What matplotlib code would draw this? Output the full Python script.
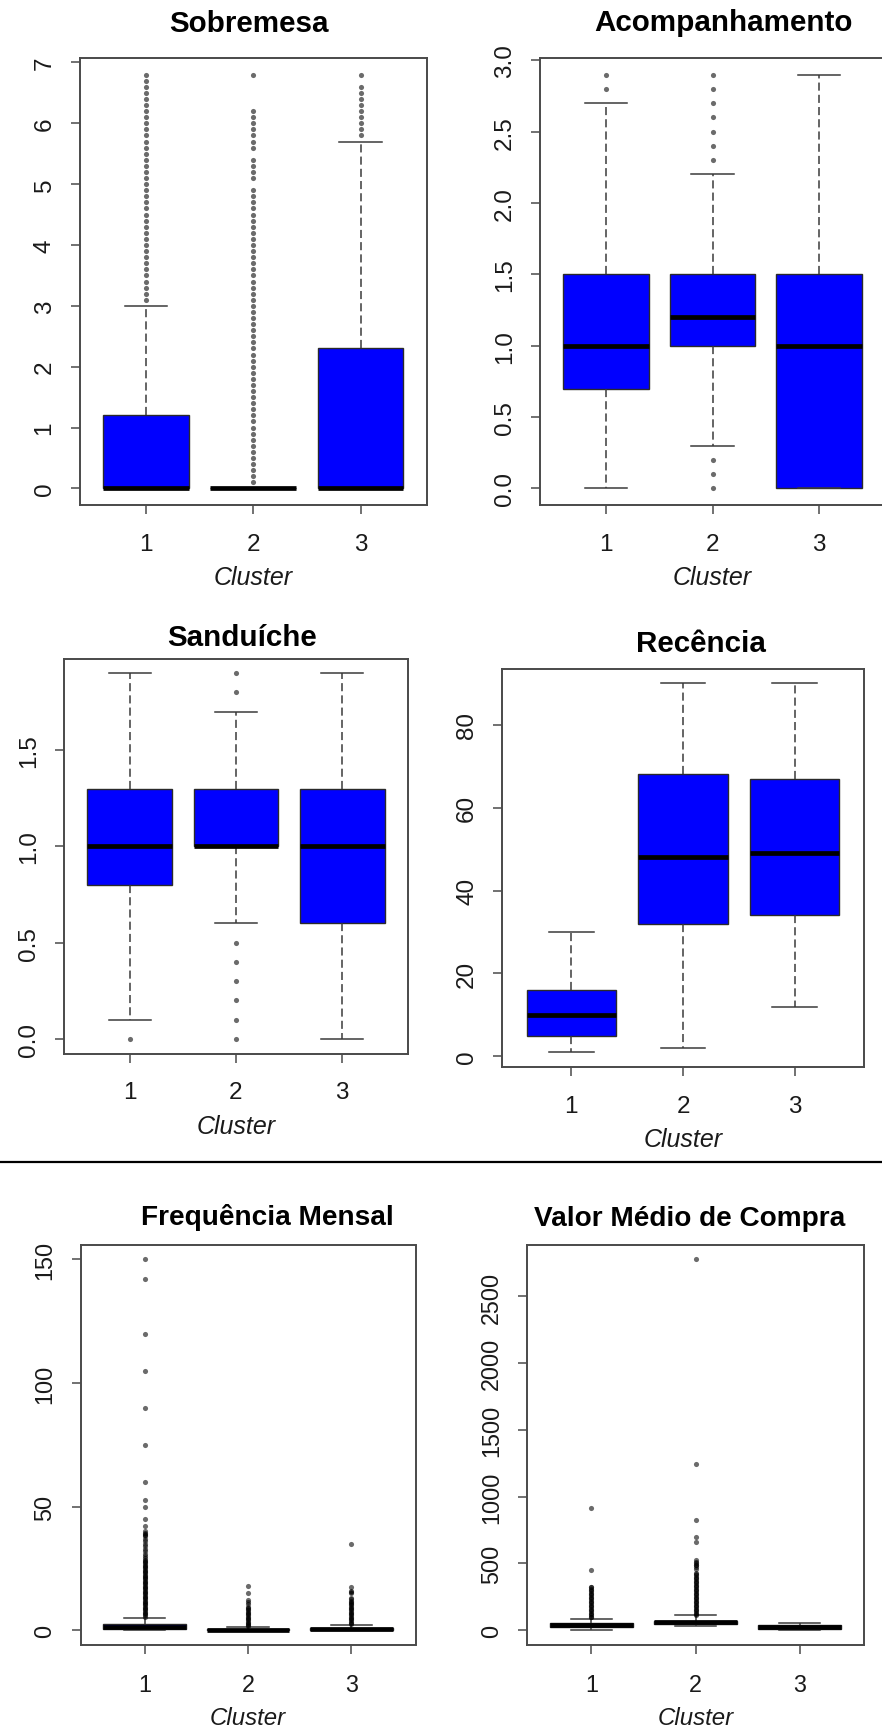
import matplotlib
matplotlib.use("Agg")
import matplotlib.pyplot as plt
from matplotlib.lines import Line2D

plt.rcParams['font.family'] = ['Liberation Sans', 'DejaVu Sans']

W, H, DPI = 882, 1731, 100
PT = 72.0 / DPI  # points per pixel

clusters = [1, 2, 3]
x_label = "Cluster"

# ---------------- Sobremesa ----------------
sob_title = "Sobremesa"
sob_q1 = [0.0, 0.0, 0.0]
sob_med = [0.0, 0.0, 0.0]
sob_q3 = [1.2, 0.0, 2.3]
sob_lo = [0.0, 0.0, 0.0]
sob_hi = [3.0, 0.0, 5.7]
sob_out_1 = [3.1, 3.2, 3.3, 3.4, 3.5, 3.6, 3.7, 3.8, 3.9, 4.0, 4.1, 4.2, 4.3,
             4.4, 4.5, 4.6, 4.7, 4.8, 4.9, 5.0, 5.1, 5.2, 5.3, 5.4, 5.5, 5.6,
             5.7, 5.8, 5.9, 6.0, 6.1, 6.2, 6.3, 6.4, 6.5, 6.6, 6.7, 6.8]
sob_out_2 = [0.1, 0.2, 0.3, 0.4, 0.5, 0.6, 0.7, 0.8, 0.9, 1.0, 1.1, 1.2, 1.3,
             1.4, 1.5, 1.6, 1.7, 1.8, 1.9, 2.0, 2.1, 2.2, 2.3, 2.4, 2.5, 2.6,
             2.7, 2.8, 2.9, 3.0, 3.1, 3.2, 3.3, 3.4, 3.5, 3.6, 3.7, 3.8, 3.9,
             4.0, 4.1, 4.2, 4.3, 4.4, 4.5, 4.6, 4.7, 4.8, 4.9, 5.1, 5.2, 5.3,
             5.4, 5.6, 5.7, 5.8, 5.9, 6.0, 6.1, 6.2, 6.8]
sob_out_3 = [5.8, 5.9, 6.0, 6.1, 6.2, 6.3, 6.4, 6.5, 6.6, 6.8]
sob_yticks = [0, 1, 2, 3, 4, 5, 6, 7]
sob_ylabels = ["0", "1", "2", "3", "4", "5", "6", "7"]

# ---------------- Acompanhamento ----------------
aco_title = "Acompanhamento"
aco_q1 = [0.7, 1.0, 0.0]
aco_med = [1.0, 1.2, 1.0]
aco_q3 = [1.5, 1.5, 1.5]
aco_lo = [0.0, 0.3, 0.0]
aco_hi = [2.7, 2.2, 2.9]
aco_out_1 = [2.8, 2.9]
aco_out_2 = [0.0, 0.1, 0.2, 2.3, 2.4, 2.5, 2.6, 2.7, 2.8, 2.9]
aco_out_3 = []
aco_yticks = [0.0, 0.5, 1.0, 1.5, 2.0, 2.5, 3.0]
aco_ylabels = ["0.0", "0.5", "1.0", "1.5", "2.0", "2.5", "3.0"]

# ---------------- Sanduíche ----------------
san_title = "Sanduíche"
san_q1 = [0.8, 1.0, 0.6]
san_med = [1.0, 1.0, 1.0]
san_q3 = [1.3, 1.3, 1.3]
san_lo = [0.1, 0.6, 0.0]
san_hi = [1.9, 1.7, 1.9]
san_out_1 = [0.0]
san_out_2 = [0.0, 0.1, 0.2, 0.3, 0.4, 0.5, 1.8, 1.9]
san_out_3 = []
san_yticks = [0.0, 0.5, 1.0, 1.5]
san_ylabels = ["0.0", "0.5", "1.0", "1.5"]

# ---------------- Recência ----------------
rec_title = "Recência"
rec_q1 = [5, 32, 34]
rec_med = [10, 48, 49]
rec_q3 = [16, 68, 67]
rec_lo = [1, 2, 12]
rec_hi = [30, 90, 90]
rec_out_1 = []
rec_out_2 = []
rec_out_3 = []
rec_yticks = [0, 20, 40, 60, 80]
rec_ylabels = ["0", "20", "40", "60", "80"]

# ---------------- Frequência Mensal ----------------
fre_title = "Frequência Mensal"
fre_q1 = [0.4, 0.0, 0.0]
fre_med = [1.3, 0.2, 0.4]
fre_q3 = [2.5, 0.5, 0.8]
fre_lo = [0.0, 0.0, 0.0]
fre_hi = [5.0, 1.2, 2.0]
fre_out_1 = [5.5, 6, 6.5, 7, 7.5, 8, 8.5, 9, 9.5, 10, 10.5, 11, 11.5, 12,
             12.5, 13, 13.5, 14, 14.5, 15, 15.5, 16, 16.5, 17, 17.5, 18, 18.5,
             19, 19.5, 20, 20.5, 21, 21.5, 22, 22.5, 23, 23.5, 24, 24.5, 25,
             25.5, 26, 26.5, 27, 27.5, 28, 28.5, 29, 30, 31, 32, 33, 34, 35,
             36, 37, 38, 38.5, 39, 39.5, 40, 42, 45, 50, 52.5, 60, 75, 90,
             105, 120, 142, 150]
fre_out_2 = [1.5, 2, 2.5, 3, 3.5, 4, 4.5, 5, 5.5, 6, 6.5, 7, 7.5, 8, 8.5, 9,
             9.5, 10.5, 11.5, 12.3, 15, 18]
fre_out_3 = [2.5, 3, 3.5, 4, 4.5, 5, 5.5, 6, 6.5, 7, 7.5, 8, 8.5, 9, 9.5, 10,
             10.5, 11, 11.5, 12, 12.5, 13, 15, 15.5, 16, 17.5, 35]
fre_yticks = [0, 50, 100, 150]
fre_ylabels = ["0", "50", "100", "150"]

# ---------------- Valor Médio de Compra ----------------
val_title = "Valor Médio de Compra"
val_q1 = [20, 45, 10]
val_med = [35, 60, 25]
val_q3 = [50, 72, 40]
val_lo = [0, 30, 0]
val_hi = [87, 110, 50]
val_out_1 = [95, 100, 110, 120, 130, 140, 150, 160, 170, 180, 190, 200, 210,
             220, 230, 240, 250, 260, 270, 280, 290, 300, 310, 320, 325, 448,
             913]
val_out_2 = [115, 120, 130, 140, 150, 160, 170, 180, 190, 200, 210, 220, 230,
             240, 250, 260, 270, 280, 290, 300, 310, 320, 330, 340, 350, 360,
             370, 380, 390, 400, 410, 420, 430, 460, 475, 485, 490, 500, 510,
             527, 659, 701, 823, 1248, 2778]
val_out_3 = []
val_yticks = [0, 500, 1000, 1500, 2000, 2500]
val_ylabels = ["0", "500", "1000", "1500", "2000", "2500"]

# ---------------- layout (pixels) ----------------
panels = [
    dict(title=sob_title, q1=sob_q1, med=sob_med, q3=sob_q3, lo=sob_lo, hi=sob_hi,
         out=[sob_out_1, sob_out_2, sob_out_3], yt=sob_yticks, yl=sob_ylabels,
         box=(79.5, 427, 59, 506), tpos=(249, 31.5), fs=17.5, tfs=21.3),
    dict(title=aco_title, q1=aco_q1, med=aco_med, q3=aco_q3, lo=aco_lo, hi=aco_hi,
         out=[aco_out_1, aco_out_2, aco_out_3], yt=aco_yticks, yl=aco_ylabels,
         box=(540, 885, 59, 506), tpos=(723, 31), fs=17.5, tfs=21.3),
    dict(title=san_title, q1=san_q1, med=san_med, q3=san_q3, lo=san_lo, hi=san_hi,
         out=[san_out_1, san_out_2, san_out_3], yt=san_yticks, yl=san_ylabels,
         box=(64, 408, 659.5, 1054.5), tpos=(242, 646), fs=17.5, tfs=21.3),
    dict(title=rec_title, q1=rec_q1, med=rec_med, q3=rec_q3, lo=rec_lo, hi=rec_hi,
         out=[rec_out_1, rec_out_2, rec_out_3], yt=rec_yticks, yl=rec_ylabels,
         box=(502, 864, 669.5, 1068), tpos=(701, 652), fs=17.5, tfs=21.3),
    dict(title=fre_title, q1=fre_q1, med=fre_med, q3=fre_q3, lo=fre_lo, hi=fre_hi,
         out=[fre_out_1, fre_out_2, fre_out_3], yt=fre_yticks, yl=fre_ylabels,
         box=(80.5, 415.5, 1245.5, 1646), tpos=(267.5, 1225), fs=16.8, tfs=20.2),
    dict(title=val_title, q1=val_q1, med=val_med, q3=val_q3, lo=val_lo, hi=val_hi,
         out=[val_out_1, val_out_2, val_out_3], yt=val_yticks, yl=val_ylabels,
         box=(527, 864, 1245.5, 1646), tpos=(690, 1225.5), fs=16.8, tfs=20.2),
]

FRAME = '#4a4a4a'
TEXT = '#1a1a1a'

fig = plt.figure(figsize=(W / DPI, H / DPI), dpi=DPI)
fig.patch.set_facecolor('white')

for p in panels:
    l, r, t, b = p['box']
    ax = fig.add_axes([l / W, 1 - b / H, (r - l) / W, (b - t) / H])

    stats = []
    for i in range(3):
        stats.append(dict(med=p['med'][i], q1=p['q1'][i], q3=p['q3'][i],
                          whislo=p['lo'][i], whishi=p['hi'][i],
                          fliers=p['out'][i]))
    ax.bxp(stats, positions=clusters, widths=0.8, capwidths=0.4,
           patch_artist=True, manage_ticks=False,
           boxprops=dict(facecolor='#0000ff', edgecolor='#2a2a2a', linewidth=1.0),
           medianprops=dict(color='black', linewidth=3.4, solid_capstyle='butt'),
           whiskerprops=dict(color='#3a3a3a', linewidth=1.1,
                             linestyle=(0, (5.3, 2.7))),
           capprops=dict(color='#3a3a3a', linewidth=1.1),
           flierprops=dict(marker='o', markersize=3.7,
                           markerfacecolor=(0, 0, 0, 0.58),
                           markeredgecolor='none', linestyle='none'))

    # R-style limits: data range padded by 4 % on each side
    vals = p['lo'] + p['hi'] + [v for o in p['out'] for v in o]
    lo, hi = min(vals), max(vals)
    pad = (hi - lo) * 0.04
    ax.set_ylim(lo - pad, hi + pad)
    ax.set_xlim(0.38, 3.62)

    ax.set_xticks(clusters)
    ax.set_xticklabels([str(c) for c in clusters])
    ax.set_yticks(p['yt'])
    ax.set_yticklabels(p['yl'])

    fs = p['fs']
    em = fs / PT
    ax.tick_params(axis='x', length=8.5 * PT, width=1.1, color=FRAME,
                   labelsize=fs, labelcolor=TEXT,
                   pad=(45 - 0.716 * em - 8.5) * PT)
    ax.tick_params(axis='y', length=9 * PT, width=1.1, color=FRAME,
                   labelsize=fs, labelcolor=TEXT,
                   pad=(29 - 0.21 * em - 9) * PT)
    plt.setp(ax.get_yticklabels(), rotation=90, va='center', ha='right')

    for s in ax.spines.values():
        s.set_color(FRAME)
        s.set_linewidth(1.4)

    # title and axis label at fixed pixel baselines
    fig.text(p['tpos'][0] / W, 1 - p['tpos'][1] / H, p['title'],
             ha='center', va='baseline', fontsize=p['tfs'],
             fontweight='bold', color='black')
    fig.text(((l + r) / 2) / W, 1 - (b + 79) / H, x_label,
             ha='center', va='baseline',
             fontsize=fs + 0.5, fontstyle='italic', color=TEXT)

# separator between the upper and lower groups
fig.add_artist(Line2D([0, 1], [1 - 1163 / H, 1 - 1163 / H],
                      transform=fig.transFigure, color='black', linewidth=1.6))

fig.savefig('out.png', dpi=DPI, facecolor='white')
